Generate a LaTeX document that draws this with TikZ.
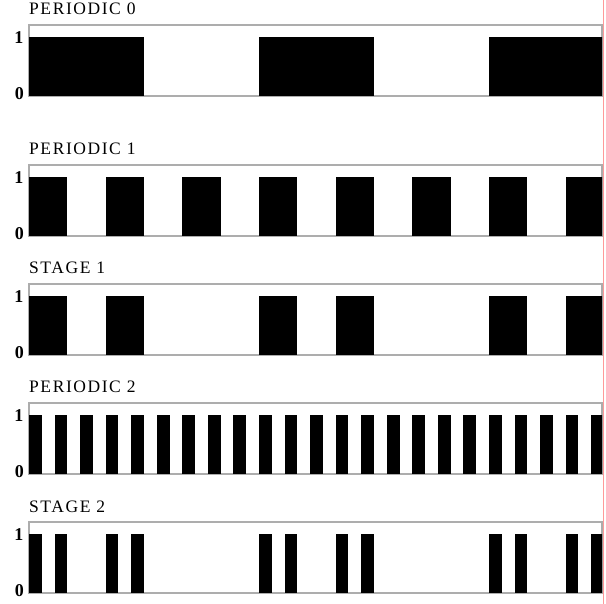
\documentclass[tikz,border=0pt]{standalone}
\usepackage{fontspec}
\setmainfont{Liberation Serif}
\newfontfamily\titlefam[LetterSpace=9]{Liberation Serif}
\definecolor{framegray}{gray}{0.68}
\definecolor{edgered}{rgb}{1,0.6,0.6}
\tikzset{
  frame/.style={draw=framegray, line width=1.3pt},
  bar/.style={fill=black},
  title/.style={anchor=base west, inner sep=0pt, font=\titlefam\fontsize{17.5}{20}\selectfont},
  ylab/.style={anchor=east, inner sep=0pt, font=\bfseries\fontsize{18}{20}\selectfont},
}
\def\uu{25.5556}
\def\xo{29}
\def\xr{602}
\begin{document}
\begin{tikzpicture}[x=1pt,y=-1pt]
\useasboundingbox (0,0) rectangle (606,604);
\foreach \top/\name/\txt in {25/p0/PERIODIC 0,165/p1/PERIODIC 1,284/s1/STAGE 1,403/p2/PERIODIC 2,522/s2/STAGE 2}{
  \pgfmathsetmacro{\base}{\top+71}
  \draw[frame] (\xo,\top) rectangle (\xr,\base);
  \node[title] (t\name) at (\xo,\top-10) {\txt};
  \node[ylab] (one\name) at (23.5,\top+13) {1};
  \node[ylab] (zero\name) at (24,\base-2) {0};
}
% PERIODIC 0
\begin{scope}
  \clip (\xo,25) rectangle (\xr,96);
  \foreach \k in {0,9,18}{\fill[bar] ({\xo+\k*\uu},37) rectangle ++({4.5*\uu},59);}
\end{scope}
% PERIODIC 1
\begin{scope}
  \clip (\xo,165) rectangle (\xr,236);
  \foreach \k in {0,3,...,21}{\fill[bar] ({\xo+\k*\uu},177) rectangle ++({1.5*\uu},59);}
\end{scope}
% STAGE 1
\begin{scope}
  \clip (\xo,284) rectangle (\xr,355);
  \foreach \k in {0,3,9,12,18,21}{\fill[bar] ({\xo+\k*\uu},296) rectangle ++({1.5*\uu},59);}
\end{scope}
% PERIODIC 2
\begin{scope}
  \clip (\xo,403) rectangle (\xr,474);
  \foreach \k in {0,...,22}{\fill[bar] ({\xo+\k*\uu},415) rectangle ++({0.5*\uu},59);}
\end{scope}
% STAGE 2
\begin{scope}
  \clip (\xo,522) rectangle (\xr,593);
  \foreach \k in {0,1,3,4,9,10,12,13,18,19,21,22}{\fill[bar] ({\xo+\k*\uu},534) rectangle ++({0.5*\uu},59);}
\end{scope}
% right edge line
\coordinate (rt) at (603,0);
\coordinate (rb) at (603,604);
\draw[edgered, line width=0.8pt] (rt) -- (rb);
\end{tikzpicture}
\end{document}
